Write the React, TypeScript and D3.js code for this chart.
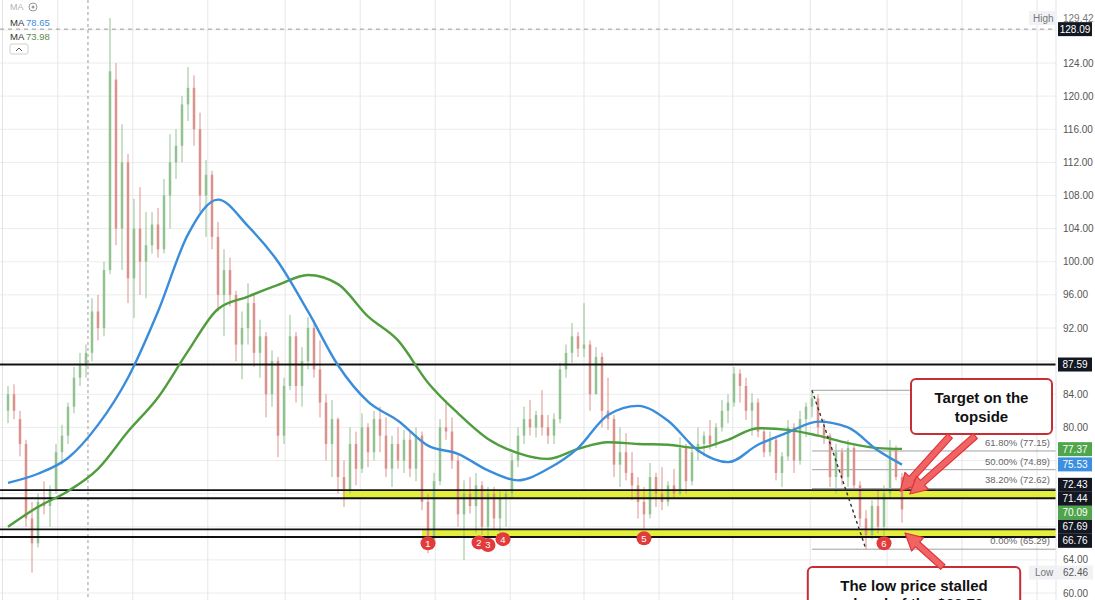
import React from 'react';
import * as d3 from 'd3';

// ---------- DATA ----------
const opens = [
  82, 84, 81, 78, 69, 66, 71, 70.5, 72.5, 77,
  79, 82.5, 86, 87.5, 89, 94, 92, 99, 122, 104,
  112, 98, 104, 100, 102, 104.5, 101.5, 108, 112, 114,
  119, 121, 116, 108, 110.5, 103, 96, 99, 96, 90,
  92, 95, 89, 91, 84, 88, 79, 85, 91, 85,
  88, 92, 87, 83, 78, 81, 74, 72.5, 78, 75,
  80, 77, 81, 79, 75, 78, 76, 78.5, 75, 79,
  71, 66.5, 73.5, 80, 79.5, 76, 69.5, 72, 70.5, 73,
  68, 72, 69, 71.5, 72, 76, 79, 81, 80, 81.5,
  80, 79, 81, 87, 89, 91, 89.5, 90, 84, 88.5,
  82, 81, 75.5, 77, 74.5, 73, 71, 69.5, 74, 72,
  71, 73, 72, 77.5, 73.5, 77, 78, 79, 78, 80,
  82, 83, 86.5, 85, 82, 83, 79.5, 77, 78.5, 74.5,
  76.5, 80, 76, 81, 82.5, 83.5, 80, 79, 74, 77,
  74, 77.5, 73, 69, 67, 70.5, 68, 72, 77.5, 74,
];
const highs = [
  85, 85.2, 82, 78.5, 71, 72, 73.5, 73, 78, 80.3,
  83, 87.3, 89, 90, 95.6, 96, 100, 129.42, 124, 116.6,
  113, 107.6, 109, 106, 106, 106.5, 110, 115.4, 116, 120,
  123.5, 122.5, 118, 112.3, 111, 104.8, 101.5, 100.5, 96.5, 94,
  97.4, 96, 93, 91.5, 89.3, 88.5, 86, 93.6, 91.5, 89.7,
  93.3, 93, 90.5, 84, 83.3, 81.2, 76, 80, 79.5, 81.7,
  80.5, 82, 82.5, 81.2, 79, 80, 79.7, 79.5, 80, 79.5,
  72, 74.5, 81, 83.3, 81.2, 76.9, 73.6, 74, 74.5, 73.5,
  72.8, 72.8, 72.4, 72.5, 76.9, 80, 82.5, 83.3, 82, 84.5,
  81.5, 81.7, 87.8, 90, 92.6, 91.5, 95, 90.5, 89.7, 89,
  86, 81.5, 80, 79.3, 77, 74, 72.8, 75.7, 74.5, 75.2,
  73.5, 75, 78.8, 78, 77.6, 80, 79.5, 80.9, 80.5, 83.3,
  84, 87.3, 87, 86, 84.1, 83.5, 79.7, 79.5, 78.8, 77,
  80.9, 80.5, 82, 83, 84.48, 84, 81, 79.3, 78, 77.5,
  78.5, 77.8, 73.5, 70, 71.2, 72.4, 73, 78.5, 77.8, 74.5,
];
const lows = [
  80.5, 81, 76.5, 68, 62.46, 65.5, 69.5, 68, 72, 75.5,
  78, 81.7, 85, 86, 88, 90.5, 91, 98.5, 102, 99,
  95, 93.2, 96, 95.6, 101, 100.5, 101, 104, 110, 112,
  117, 114, 106, 103, 101.5, 94, 91, 94.6, 88, 85.8,
  90, 87.3, 86, 81.2, 82.5, 76.4, 78, 84.5, 83, 82.5,
  87, 86, 81.2, 76, 74, 72, 70.4, 72, 73, 74.5,
  75.2, 76, 77, 74, 72.8, 75, 74.5, 74, 73.5, 70,
  64.8, 66, 73, 78.5, 75, 68, 64, 69.6, 67.2, 67,
  66.8, 67.6, 67.4, 68, 71.5, 75.2, 78, 79, 78.8, 79,
  78, 78, 80.5, 86, 87.8, 88.5, 88.5, 82, 84, 80,
  79.7, 74, 72.8, 73.6, 71.2, 69, 67.8, 69, 70.4, 70,
  70.5, 71.5, 71.8, 72, 73, 76, 76.5, 77.3, 77.5, 79.5,
  80.5, 82.5, 83, 80.9, 79, 78.8, 76.4, 76.5, 73.6, 72.8,
  76, 74.5, 75.5, 78.8, 81.2, 79, 78, 72.8, 72, 73,
  72.8, 72.4, 68, 65.29, 66.5, 67.2, 66.4, 71.5, 73.6, 68.5,
];
const closes = [
  84, 82, 78, 69, 66, 71, 70.5, 72.5, 77, 79,
  82.5, 86, 87.5, 89, 94, 92, 99, 123, 104, 112,
  98, 104, 100, 102, 104.5, 101.5, 108, 112, 114, 119,
  121, 116, 108, 110.5, 103, 96, 99, 96, 90, 92,
  95, 89, 91, 84, 88, 79, 85, 91, 85, 88,
  92, 87, 83, 78, 81, 74, 72.5, 78, 75, 80,
  77, 81, 79, 75, 78, 76, 78.5, 75, 79, 71,
  66.5, 73.5, 80, 79.5, 76, 69.5, 72, 70.5, 73, 68,
  72, 69, 71.5, 72, 76, 79, 81, 80, 81.5, 80,
  79, 81, 87, 89, 91, 89.5, 90, 84, 88.5, 82,
  81, 75.5, 77, 74.5, 73, 71, 69.5, 74, 72, 71,
  73, 72, 77.5, 73.5, 77, 78, 79, 78, 80, 82,
  83, 86.5, 85, 82, 83, 79.5, 77, 78.5, 74.5, 76.5,
  80, 76, 81, 82.5, 83.5, 80, 79, 74, 77, 74,
  77.5, 73, 69, 67, 70.5, 68, 72, 77.5, 74, 70.09,
];

// moving averages sampled at bar indices
const maIdx = [0, 5, 10, 15, 20, 25, 30, 35, 40, 45, 50, 55, 60, 65, 70, 75, 80, 85, 90, 95, 100, 105, 110, 115, 120, 125, 130, 135, 140, 145, 149];
const maBlue = [73.3, 74.4, 76.3, 80.3, 86, 94, 103.3, 107.5, 104.3, 100, 94, 87.5, 83.1, 80.8, 77.8, 76.8, 74.8, 73.6, 75, 77.5, 81.5, 82.6, 80.8, 77.2, 75.8, 77.9, 79.4, 80.7, 80, 77.2, 75.5];
const maGreen = [68, 70.4, 72.3, 75, 79.5, 83.6, 89.2, 94.3, 95.8, 97.2, 98.4, 97.3, 93.4, 90.5, 85.4, 81.7, 78.6, 76.9, 76.2, 77.4, 78.2, 78, 77.9, 77.5, 78.5, 79.9, 79.7, 79, 78.1, 77.5, 77.4];

const priceTicks = [60, 64, 68, 72, 76, 80, 84, 88, 92, 96, 100, 104, 108, 112, 116, 120, 124, 128, 132];
const monthGridIdx = [8.3, 20.8, 33.3, 46.2, 58.7, 71.2, 83.7, 96, 108.5, 120.8, 133.7, 146.5, 159, 171.5];

const resistance = 87.59;
const upperBand = [72.43, 71.44];
const upperBandStart = 55.8;
const lowerBand = [67.69, 66.76];
const lowerBandStart = 69;

const fibPrices = [84.48, 77.15, 74.89, 72.62, 65.29];
const fibPcts = ['100.00%', '61.80%', '50.00%', '38.20%', '0.00%'];
const fibStartIdx = 134;
const fibLowIdx = 143;

const markerLabels = ['1', '2', '3', '4', '5', '6'];
const markerIdx = [70, 78.5, 80, 82.5, 106, 146];
const markerPrice = [66.0, 66.1, 65.8, 66.5, 66.6, 66.0];

const badgeValues = [128.09, 87.59, 77.37, 75.53, 72.43, 71.44, 70.09, 67.69, 66.76];
const badgeColors = ['#131722', '#131722', '#4fa64a', '#3b8fe0', '#131722', '#131722', '#4fa64a', '#131722', '#131722'];

const highValue = 129.42;
const lowValue = 62.46;
const crosshairIdx = 13.33;
const crosshairPrice = 128.09;
const legendBlue = '78.65';
const legendGreen = '73.98';

// annotations in chart coordinates (bar index, price)
const box1 = { i0: 150.5, i1: 174, p0: 85.84, p1: 79.2, lines: ['Target on the', 'topside'] };
const box2 = { i0: 133.3, i1: 168.7, p0: 63.14, p1: 57.5, lines: ['The low price stalled', 'ahead of the $66.76'] };
const arrows = [
  { from: [157, 78.95], to: [148.7, 72.3] },
  { from: [161.2, 78.95], to: [150.3, 71.95] },
  { from: [155.8, 63.14], to: [149.5, 67.25] },
];

function arrowPath(x1: number, y1: number, x2: number, y2: number) {
  const dx = x2 - x1, dy = y2 - y1;
  const len = Math.hypot(dx, dy);
  const ux = dx / len, uy = dy / len;
  const nx = -uy, ny = ux;
  const sw = 3.2, hw = 9, hl = 17;
  const bx = x2 - ux * hl, by = y2 - uy * hl;
  const pts = [
    [x1 + nx * sw, y1 + ny * sw],
    [bx + nx * sw, by + ny * sw],
    [bx + nx * hw, by + ny * hw],
    [x2, y2],
    [bx - nx * hw, by - ny * hw],
    [bx - nx * sw, by - ny * sw],
    [x1 - nx * sw, y1 - ny * sw],
  ];
  return 'M' + pts.map(p => p.join(',')).join('L') + 'Z';
}

export default function App() {
  const W = 1095, H = 600;
  const plotRight = 1056;
  const x = d3.scaleLinear().domain([0, 149]).range([8, 902]);
  const y = d3.scaleLinear().domain([60, 124]).range([593, 63]);

  const lineGen = d3.line<number>()
    .x((_, i) => x(maIdx[i]))
    .y(d => y(d))
    .curve(d3.curveMonotoneX);

  // right-axis badges with collision relaxation
  const badges = badgeValues.map((v, i) => ({ v, color: badgeColors[i], y: y(v) }));
  const sorted = [...badges].sort((a, b) => a.y - b.y);
  const bh = 14;
  for (let it = 0; it < 200; it++) {
    for (let k = 1; k < sorted.length; k++) {
      const a = sorted[k - 1], b = sorted[k];
      const gap = b.y - a.y;
      if (gap < bh) { const d = (bh - gap) / 2; a.y -= d; b.y += d; }
    }
  }
  const occupied = [...sorted.map(b => b.y), y(highValue), y(lowValue)];
  const visibleTicks = priceTicks.filter(t => occupied.every(o => Math.abs(o - y(t)) > 10));

  const font = '"Liberation Sans", Arial, Helvetica, sans-serif';
  const greenC = '#93c291';
  const redC = '#dc928c';

  return (
    <div style={{ position: 'fixed', left: 0, top: 0, width: W, height: H, overflow: 'hidden', background: '#fff' }}>
      <svg width={W} height={H} style={{ display: 'block', fontFamily: font }}>
        <rect x={0} y={0} width={W} height={H} fill="#fff" />
        {/* grid */}
        {priceTicks.map(t => (
          <line key={'h' + t} x1={0} x2={plotRight} y1={y(t)} y2={y(t)} stroke="#ececec" strokeWidth={1} />
        ))}
        {monthGridIdx.map(g => (
          <line key={'v' + g} x1={x(g)} x2={x(g)} y1={0} y2={H} stroke="#e6e6e6" strokeWidth={1} />
        ))}
        <line x1={2.5} x2={2.5} y1={0} y2={H} stroke="#e3e3e3" />
        {/* crosshair */}
        <line x1={x(crosshairIdx)} x2={x(crosshairIdx)} y1={0} y2={H} stroke="#9a9a9a" strokeDasharray="3,3" />
        <line x1={0} x2={plotRight} y1={y(crosshairPrice)} y2={y(crosshairPrice)} stroke="#9a9a9a" strokeDasharray="4,4" />

        {/* yellow bands */}
        <rect x={x(upperBandStart)} width={plotRight - x(upperBandStart)} y={y(upperBand[0])} height={y(upperBand[1]) - y(upperBand[0])} fill="#e4ee3c" />
        <rect x={x(lowerBandStart)} width={plotRight - x(lowerBandStart)} y={y(lowerBand[0])} height={y(lowerBand[1]) - y(lowerBand[0])} fill="#e4ee3c" />

        {/* fib lines */}
        {fibPrices.map((p, k) => (
          <g key={'f' + k}>
            <line x1={x(fibStartIdx)} x2={k === 0 ? x(151) : plotRight} y1={y(p)} y2={y(p)} stroke="#a0a0a0" strokeWidth={1} />
            {k > 0 && (
              <text x={1050} y={y(p) - 5} textAnchor="end" fontSize={9.5} fill="#666">{`${fibPcts[k]} (${p.toFixed(2)})`}</text>
            )}
          </g>
        ))}

        {/* candles */}
        {closes.map((c, i) => {
          const o = opens[i];
          const up = c >= o;
          const col = up ? greenC : redC;
          const top = y(Math.max(o, c)), bot = y(Math.min(o, c));
          return (
            <g key={'c' + i}>
              <line x1={x(i)} x2={x(i)} y1={y(highs[i])} y2={y(lows[i])} stroke={col} strokeWidth={1} />
              <rect x={x(i) - 1.25} width={2.5} y={top} height={Math.max(1, bot - top)} fill={col} />
            </g>
          );
        })}

        {/* black level lines */}
        {[resistance, ...upperBand, ...lowerBand].map(v => (
          <line key={'l' + v} x1={0} x2={plotRight} y1={y(v)} y2={y(v)} stroke="#111" strokeWidth={1.8} />
        ))}

        {/* moving averages */}
        <path d={lineGen(maGreen) || ''} fill="none" stroke="#4f9d3c" strokeWidth={2.4} />
        <path d={lineGen(maBlue) || ''} fill="none" stroke="#3a8ddb" strokeWidth={2.4} />

        {/* fib diagonal */}
        <line x1={x(fibStartIdx)} y1={y(fibPrices[0])} x2={x(fibLowIdx)} y2={y(fibPrices[4])} stroke="#333" strokeWidth={1.4} strokeDasharray="3,3" />

        {/* markers */}
        {markerLabels.map((m, k) => (
          <g key={'m' + k}>
            <ellipse cx={x(markerIdx[k])} cy={y(markerPrice[k])} rx={7.5} ry={7} fill="#e23b3b" />
            <text x={x(markerIdx[k])} y={y(markerPrice[k]) + 3.5} textAnchor="middle" fontSize={9.5} fill="#fff">{m}</text>
          </g>
        ))}

        {/* annotation boxes */}
        {[box1, box2].map((b, k) => {
          const bx = x(b.i0), bw = x(b.i1) - x(b.i0), by = y(b.p0), bht = y(b.p1) - y(b.p0);
          return (
            <g key={'b' + k}>
              <rect x={bx} y={by} width={bw} height={bht} rx={5} fill="#fff" stroke="#c62d35" strokeWidth={2} />
              {b.lines.map((t, j) => (
                <text key={j} x={bx + bw / 2} y={by + 24 + j * 18.5} textAnchor="middle" fontSize={15} fontWeight="bold" fill="#111">{t}</text>
              ))}
            </g>
          );
        })}
        {arrows.map((a, k) => (
          <path key={'a' + k} d={arrowPath(x(a.from[0]), y(a.from[1]), x(a.to[0]), y(a.to[1]))} fill="#f06464" stroke="#e0343c" strokeWidth={1.2} strokeLinejoin="round" />
        ))}

        {/* legend */}
        <text x={10} y={10} fontSize={9} fill="#b5b5b5">MA</text>
        <circle cx={33} cy={7} r={4} fill="none" stroke="#999" strokeWidth={1} />
        <circle cx={33} cy={7} r={1.5} fill="#999" />
        <text x={10} y={26} fontSize={9.5} fill="#333">MA</text>
        <text x={26} y={26} fontSize={9.5} fill="#3a8ddb">{legendBlue}</text>
        <text x={10} y={40} fontSize={9.5} fill="#333">MA</text>
        <text x={26} y={40} fontSize={9.5} fill="#5a8a4a">{legendGreen}</text>
        <rect x={10} y={44} width={18} height={10} rx={2} fill="#fff" stroke="#d0d0d0" />
        <path d="M16,51 L19,48 L22,51" fill="none" stroke="#555" strokeWidth={1} />

        {/* right axis */}
        <rect x={plotRight} y={0} width={W - plotRight} height={H} fill="#fff" />
        <line x1={plotRight} x2={plotRight} y1={0} y2={H} stroke="#e0e3eb" />
        {visibleTicks.map(t => (
          <text key={'t' + t} x={1063} y={y(t) + 3.5} fontSize={10} fill="#555">{t.toFixed(2)}</text>
        ))}
        <rect x={1029} y={y(highValue) - 7} width={26} height={14} fill="#f0f2f5" />
        <text x={1033} y={y(highValue) + 3.5} fontSize={10} fill="#777">High</text>
        <text x={1063} y={y(highValue) + 3.5} fontSize={10} fill="#777">{highValue.toFixed(2)}</text>
        <rect x={1029} y={y(lowValue) - 7} width={64} height={14} fill="#f0f2f5" />
        <text x={1035} y={y(lowValue) + 3.5} fontSize={10} fill="#777">Low</text>
        <text x={1063} y={y(lowValue) + 3.5} fontSize={10} fill="#555">{lowValue.toFixed(2)}</text>
        {badges.map((b, k) => (
          <g key={'bd' + k}>
            <rect x={1058} y={b.y - 7} width={34} height={14} fill={b.color} />
            <text x={1075} y={b.y + 3.5} textAnchor="middle" fontSize={10} fill="#fff">{b.v.toFixed(2)}</text>
          </g>
        ))}
      </svg>
    </div>
  );
}
